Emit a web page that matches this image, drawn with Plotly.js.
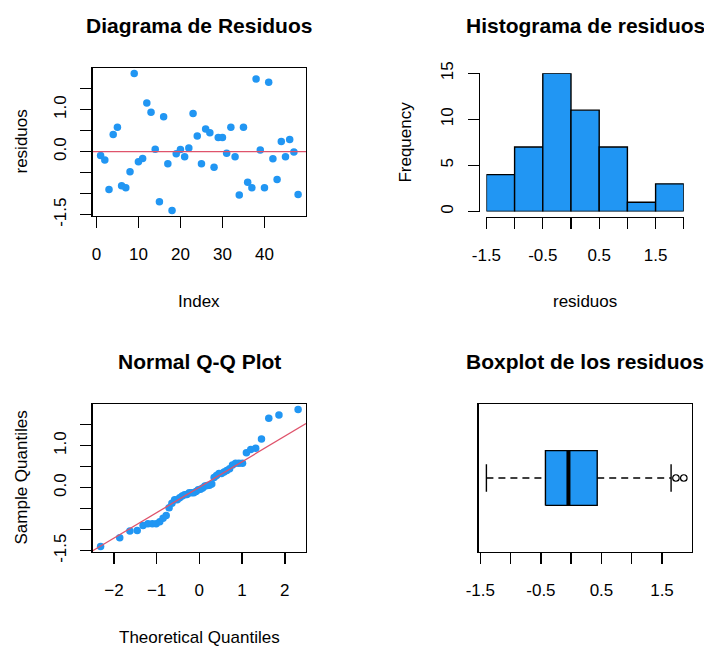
<!DOCTYPE html>
<html>
<head>
<meta charset="utf-8">
<script src="https://cdn.plot.ly/plotly-3.0.1.min.js"></script>
<style>
  html, body { margin: 0; padding: 0; background: #ffffff; }
  #chart { width: 704px; height: 646px; }
</style>
</head>
<body>
<div id="chart"></div>
<script>
// Residuals of the fitted model, in observation order
const residuos = [
  -0.09, -0.20, -0.90, 0.41, 0.58, -0.81, -0.86, -0.48, 1.86, -0.24,
  -0.16, 1.16, 0.94, 0.06, -1.19, 0.83, -0.29, -1.40, -0.05, 0.05,
  -0.12, 0.09, 0.91, 0.37, -0.29, 0.54, 0.45, -0.37, 0.34, 0.34,
  -0.04, 0.58, -0.12, -1.03, 0.58, -0.73, -0.86, 1.73, 0.04, -0.86,
  1.65, -0.17, -0.66, 0.24, -0.12, 0.29, -0.01, -1.02
];

// Standard normal quantiles at the plotting positions (i - 0.5) / 48
const cuantilesTeoricos = [
  -2.311, -1.863, -1.625, -1.454, -1.318, -1.203, -1.101, -1.010,
  -0.927, -0.849, -0.776, -0.708, -0.642, -0.579, -0.518, -0.460,
  -0.402, -0.346, -0.291, -0.237, -0.184, -0.131, -0.078, -0.026,
  0.026, 0.078, 0.131, 0.184, 0.237, 0.291, 0.346, 0.402,
  0.460, 0.518, 0.579, 0.642, 0.708, 0.776, 0.849, 0.927,
  1.010, 1.101, 1.203, 1.318, 1.454, 1.625, 1.863, 2.311
];

// Histogram class limits
const cortes = [-1.5, -1.0, -0.5, 0.0, 0.5, 1.0, 1.5, 2.0];

// Tick positions and labels
const ticksIndice = [0, 10, 20, 30, 40];
const ticksResid = [-1.5, -1.0, -0.5, 0.0, 0.5, 1.0, 1.5];
const etiqResidY = ['-1.5', '', '', '0.0', '', '1.0', ''];
const etiqResidX = ['-1.5', '', '-0.5', '', '0.5', '', '1.5'];
const ticksFrec = [0, 5, 10, 15];
const etiqHist = ['-1.5', '', '-0.5', '', '0.5', '', '1.5', ''];
const ticksQQ = [-2, -1, 0, 1, 2];

// ---- helpers -------------------------------------------------------------
const W = 704, H = 646;
const px = v => v / W;          // pixel column -> paper x
const py = v => 1 - v / H;      // pixel row -> paper y

function extender(lo, hi) {     // axis range padded by 4% on each side
  const d = (hi - lo) * 0.04;
  return [lo - d, hi + d];
}
function cuantil7(orden, p) {   // linear-interpolation sample quantile
  const h = (orden.length - 1) * p;
  const i = Math.floor(h);
  const f = h - i;
  return i + 1 < orden.length ? orden[i] + f * (orden[i + 1] - orden[i]) : orden[i];
}
function mediana(a) {
  const n = a.length, m = Math.floor(n / 2);
  return n % 2 ? a[m] : (a[m - 1] + a[m]) / 2;
}

const n = residuos.length;
const indice = residuos.map((_, i) => i + 1);
const ordenados = residuos.slice().sort((a, b) => a - b);
const minR = ordenados[0], maxR = ordenados[n - 1];
const rangoResid = extender(minR, maxR);
const rangoIndice = extender(1, n);
const rangoQQ = extender(cuantilesTeoricos[0], cuantilesTeoricos[n - 1]);

// Histogram counts, right-closed classes (lowest one closed on both sides)
const frecuencias = cortes.slice(0, -1).map((a, k) => {
  const b = cortes[k + 1];
  return residuos.filter(v => (k === 0 ? v >= a : v > a) && v <= b).length;
});
const marcas = cortes.slice(0, -1).map((a, k) => (a + cortes[k + 1]) / 2);

// Reference line through the first and third quartiles
const z25 = -0.6744898, z75 = 0.6744898;
const q25 = cuantil7(ordenados, 0.25), q75 = cuantil7(ordenados, 0.75);
const pendiente = (q75 - q25) / (z75 - z25);
const intercepto = q25 - pendiente * z25;

// Five-number summary with Tukey hinges for the box plot
const mitad = Math.ceil(n / 2);
const bisagraInf = mediana(ordenados.slice(0, mitad));
const bisagraSup = mediana(ordenados.slice(n - mitad));
const med = mediana(ordenados);
const riq = bisagraSup - bisagraInf;
const dentro = ordenados.filter(v => v >= bisagraInf - 1.5 * riq && v <= bisagraSup + 1.5 * riq);
const bigoteInf = dentro[0], bigoteSup = dentro[dentro.length - 1];
const atipicos = ordenados.filter(v => v < bigoteInf || v > bigoteSup);

// ---- styling -------------------------------------------------------------
const AZUL = '#2196F3';
const ROJO = '#DF536B';
const NEGRO = '#000000';
const FAMILIA = 'Liberation Sans, Arial, sans-serif';
const fuenteTicks = { family: FAMILIA, size: 17, color: NEGRO };
const LW = 1.4;
const medioCaja = 0.2;           // half height of the box
const medioGrapa = 0.1;          // half length of whisker caps

const ejeBase = {
  ticks: 'outside', ticklen: 11, tickwidth: LW, tickcolor: NEGRO,
  showgrid: false, zeroline: false, tickfont: fuenteTicks,
  linecolor: NEGRO, linewidth: LW, fixedrange: true
};

// ---- traces --------------------------------------------------------------
const trazos = [
  // Residuals against observation index
  { type: 'scatter', mode: 'markers', x: indice, y: residuos,
    xaxis: 'x', yaxis: 'y', marker: { color: AZUL, size: 7.5 }, hoverinfo: 'x+y' },
  { type: 'scatter', mode: 'lines', x: rangoIndice, y: [0, 0],
    xaxis: 'x', yaxis: 'y', line: { color: ROJO, width: 1.3 }, hoverinfo: 'skip' },

  // Histogram
  { type: 'bar', x: marcas, y: frecuencias, width: 0.5, xaxis: 'x2', yaxis: 'y2',
    cliponaxis: false,
    marker: { color: AZUL, line: { color: NEGRO, width: LW } } },

  // Normal Q-Q
  { type: 'scatter', mode: 'markers', x: cuantilesTeoricos, y: ordenados,
    xaxis: 'x3', yaxis: 'y3', marker: { color: AZUL, size: 7.5 } },
  { type: 'scatter', mode: 'lines', x: rangoQQ,
    y: rangoQQ.map(t => intercepto + pendiente * t),
    xaxis: 'x3', yaxis: 'y3', line: { color: ROJO, width: 1.3 }, hoverinfo: 'skip' },

  // Box plot: dashed whiskers, caps, box, median, outliers
  { type: 'scatter', mode: 'lines',
    x: [bigoteInf, bisagraInf, null, bisagraSup, bigoteSup], y: [1, 1, null, 1, 1],
    xaxis: 'x4', yaxis: 'y4', line: { color: NEGRO, width: LW, dash: '7px,5px' }, hoverinfo: 'skip' },
  { type: 'scatter', mode: 'lines',
    x: [bigoteInf, bigoteInf, null, bigoteSup, bigoteSup],
    y: [1 - medioGrapa, 1 + medioGrapa, null, 1 - medioGrapa, 1 + medioGrapa],
    xaxis: 'x4', yaxis: 'y4', line: { color: NEGRO, width: LW }, hoverinfo: 'skip' },
  { type: 'scatter', mode: 'lines', fill: 'toself', fillcolor: AZUL,
    x: [bisagraInf, bisagraSup, bisagraSup, bisagraInf, bisagraInf],
    y: [1 - medioCaja, 1 - medioCaja, 1 + medioCaja, 1 + medioCaja, 1 - medioCaja],
    xaxis: 'x4', yaxis: 'y4', line: { color: NEGRO, width: LW }, hoverinfo: 'skip' },
  { type: 'scatter', mode: 'lines', x: [med, med], y: [1 - medioCaja, 1 + medioCaja],
    xaxis: 'x4', yaxis: 'y4', line: { color: NEGRO, width: 4 }, hoverinfo: 'skip' },
  { type: 'scatter', mode: 'markers', x: atipicos, y: atipicos.map(() => 1),
    xaxis: 'x4', yaxis: 'y4',
    marker: { symbol: 'circle-open', size: 6.5, color: NEGRO, line: { width: 1.2 } } }
];

// ---- layout --------------------------------------------------------------
const izq = [px(92.7), px(306)];
const der = [px(478.5), px(691.7)];
const arriba = [py(216), py(68)];
const abajo = [py(552), py(404)];

const titulo = (texto, x, y) => ({
  text: '<b>' + texto + '</b>', x: x, y: y, xref: 'paper', yref: 'paper',
  xanchor: 'center', yanchor: 'middle', showarrow: false,
  font: { family: FAMILIA, size: 21, color: NEGRO }
});
const rotulo = (texto, x, y, ang) => ({
  text: texto, x: x, y: y, xref: 'paper', yref: 'paper',
  xanchor: 'center', yanchor: 'middle', showarrow: false, textangle: ang || 0,
  font: { family: FAMILIA, size: 17, color: NEGRO }
});

const cx1 = px((92.7 + 306) / 2), cx2 = px((478.5 + 691.7) / 2);
const SEP_X = 11, SEP_Y = 8;     // tick label standoff, horizontal / vertical axes

const layout = {
  width: W, height: H,
  margin: { l: 0, r: 0, t: 0, b: 0 },
  paper_bgcolor: '#ffffff', plot_bgcolor: '#ffffff',
  showlegend: false, font: fuenteTicks,

  xaxis: Object.assign({}, ejeBase, {
    domain: izq, anchor: 'y', range: rangoIndice, tickvals: ticksIndice,
    showline: true, mirror: true, ticklabelstandoff: SEP_X }),
  yaxis: Object.assign({}, ejeBase, {
    domain: arriba, anchor: 'x', range: rangoResid, tickvals: ticksResid,
    ticktext: etiqResidY, tickangle: -90, showline: true, mirror: true,
    ticklabelstandoff: SEP_Y }),

  xaxis2: Object.assign({}, ejeBase, {
    domain: [px(486.4), px(683.8)], anchor: 'free', position: py(217),
    range: [cortes[0], cortes[cortes.length - 1]], tickvals: cortes, ticktext: etiqHist,
    showline: true, ticklabelstandoff: SEP_X }),
  yaxis2: Object.assign({}, ejeBase, {
    domain: [py(211.5), py(73.3)], anchor: 'free', position: px(478.7),
    range: [0, 15], tickvals: ticksFrec, tickangle: -90, showline: true,
    ticklabelstandoff: SEP_Y }),

  xaxis3: Object.assign({}, ejeBase, {
    domain: izq, anchor: 'y3', range: rangoQQ, tickvals: ticksQQ,
    showline: true, mirror: true, ticklabelstandoff: SEP_X }),
  yaxis3: Object.assign({}, ejeBase, {
    domain: abajo, anchor: 'x3', range: rangoResid, tickvals: ticksResid,
    ticktext: etiqResidY, tickangle: -90, showline: true, mirror: true,
    ticklabelstandoff: SEP_Y }),

  xaxis4: Object.assign({}, ejeBase, {
    domain: der, anchor: 'y4', range: rangoResid, tickvals: ticksResid,
    ticktext: etiqResidX, showline: true, mirror: true, ticklabelstandoff: SEP_X }),
  yaxis4: Object.assign({}, ejeBase, {
    domain: abajo, anchor: 'x4', range: [0.46, 1.54], showticklabels: false,
    ticks: '', showline: true, mirror: true }),

  annotations: [
    titulo('Diagrama de Residuos', cx1, py(25.6)),
    titulo('Histograma de residuos', cx2, py(25.6)),
    titulo('Normal Q-Q Plot', cx1, py(361.6)),
    titulo('Boxplot de los residuos', cx2, py(361.6)),
    rotulo('Index', cx1, py(301)),
    rotulo('residuos', cx2, py(301)),
    rotulo('Theoretical Quantiles', cx1, py(637)),
    rotulo('residuos', px(20.5), py(142), -90),
    rotulo('Frequency', px(404.6), py(142), -90),
    rotulo('Sample Quantiles', px(20.5), py(478), -90)
  ]
};

Plotly.newPlot('chart', trazos, layout, { displayModeBar: false, staticPlot: true });
</script>
</body>
</html>
